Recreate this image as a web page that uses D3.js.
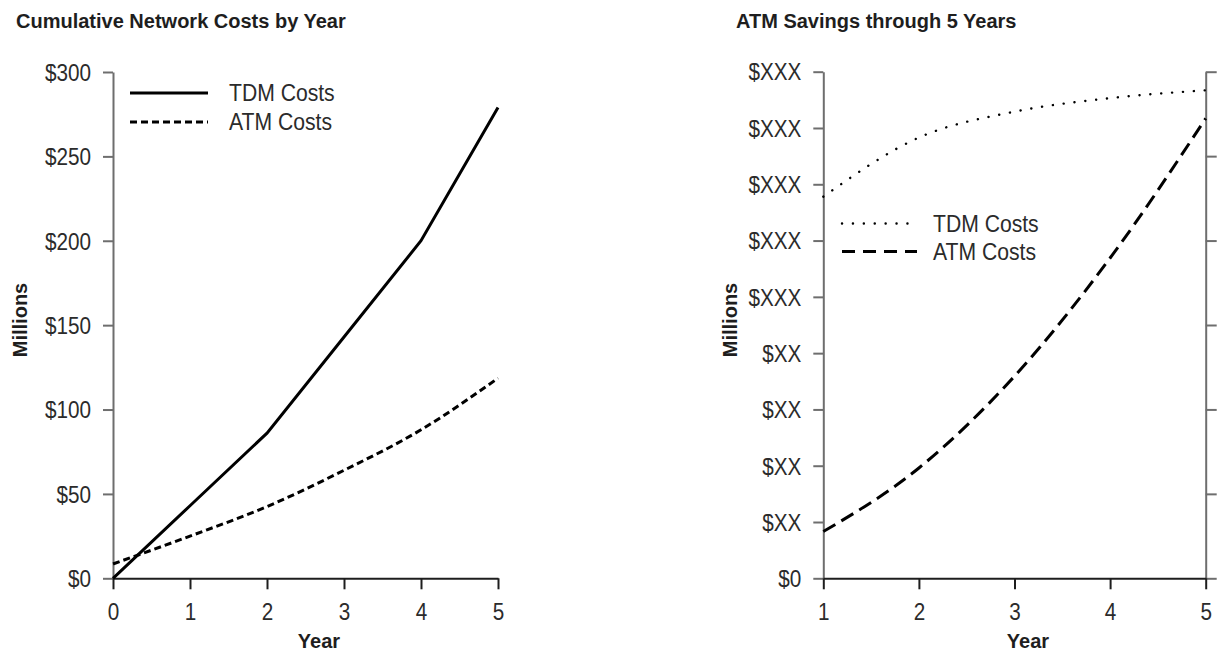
<!DOCTYPE html>
<html>
<head>
<meta charset="utf-8">
<script src="https://cdn.jsdelivr.net/npm/d3@7"></script>
<style>
  html, body { margin: 0; padding: 0; background: #fff; }
  svg { display: block; }
  .lbl { font-family: "Liberation Sans", Arial, Helvetica, sans-serif; fill: #2b2b2b; }
  .bold { font-weight: bold; fill: #1e1e1e; }
</style>
</head>
<body>
<svg id="chart" width="1225" height="654"></svg>
<script>
// ---- Cumulative network costs (left panel) ----
const costYears = [0, 1, 2, 3, 4, 5];
const tdmCosts = [0, 43, 86, 143, 200, 279];
const atmCosts = [8.5, 25, 42.5, 64, 88, 118.6];
const costTicks = [0, 50, 100, 150, 200, 250, 300];
const costTickLabels = ["$0", "$50", "$100", "$150", "$200", "$250", "$300"];

// ---- ATM savings through 5 years (right panel), values in label steps ----
const savingYears = [1, 2, 3, 4, 5];
const tdmSavings = [6.78, 7.83, 8.29, 8.53, 8.67];
const atmSavings = [0.83, 1.96, 3.59, 5.69, 8.17];
const savingTicks = [0, 1, 2, 3, 4, 5, 6, 7, 8, 9];
const savingTickLabels = ["$0", "$XX", "$XX", "$XX", "$XX", "$XXX", "$XXX", "$XXX", "$XXX", "$XXX"];
const savingRightTicks = [0, 1, 2, 3, 4, 5, 6];

const svg = d3.select("#chart");
const FONT = '"Liberation Sans", Arial, Helvetica, sans-serif';
const AXIS_GRAY = "#6e6e6e";
const AXIS_DARK = "#1e1e1e";
const NARROW = 0.9;   // horizontal squeeze for the light condensed labels

// squeeze text horizontally while keeping its anchor point in place
function condense(sel, k) {
  sel.each(function () {
    const t = d3.select(this);
    const x = +t.attr("x") || 0;
    t.attr("x", x / k).attr("transform", `scale(${k},1)`);
  });
}

function styleAxis(g, color, fontSize) {
  g.select(".domain").attr("stroke", color).attr("stroke-width", 2);
  g.selectAll(".tick line").attr("stroke", color).attr("stroke-width", 2);
  g.selectAll(".tick text")
    .attr("font-family", FONT)
    .attr("font-size", fontSize)
    .attr("fill", "#2b2b2b")
    .call(condense, NARROW);
}

function drawTexts(g, cfg) {
  g.append("text").attr("class", "lbl bold")
    .attr("x", cfg.titleX).attr("y", 28)
    .attr("font-size", 20)
    .text(cfg.title);
  g.append("text").attr("class", "lbl bold")
    .attr("transform", `translate(${cfg.millionsX},320) rotate(-90)`)
    .attr("text-anchor", "middle")
    .attr("font-size", 20)
    .text("Millions");
  g.append("text").attr("class", "lbl bold")
    .attr("x", cfg.yearX).attr("y", 648)
    .attr("text-anchor", "middle")
    .attr("font-size", 20)
    .text("Year");
}

function drawLegend(g, items) {
  items.forEach(it => {
    g.append("line")
      .attr("x1", it.x1).attr("x2", it.x2)
      .attr("y1", it.y).attr("y2", it.y)
      .attr("stroke", "#000")
      .attr("stroke-width", it.width)
      .attr("stroke-dasharray", it.dash)
      .attr("stroke-linecap", it.cap || "butt");
    g.append("text").attr("class", "lbl")
      .attr("x", it.tx).attr("y", it.y + 8.5)
      .attr("font-size", 23.5)
      .text(it.label)
      .call(condense, NARROW);
  });
}

// ================= Left panel =================
{
  const g = svg.append("g");
  const x = d3.scaleLinear().domain([0, 5]).range([113, 498]);
  const y = d3.scaleLinear().domain([0, 300]).range([578.3, 72]);

  const yAxis = g.append("g").attr("transform", `translate(${x(0)},0)`)
    .call(d3.axisLeft(y).tickValues(costTicks)
      .tickFormat((d, i) => costTickLabels[i])
      .tickSize(10).tickSizeOuter(0).tickPadding(12));
  styleAxis(yAxis, AXIS_GRAY, 23);
  yAxis.selectAll(".tick text").attr("dy", "0.36em");

  const xAxis = g.append("g").attr("transform", `translate(0,${y(0)})`)
    .call(d3.axisBottom(x).tickValues(costYears)
      .tickFormat(d3.format("d"))
      .tickSize(11).tickSizeOuter(0).tickPadding(14));
  styleAxis(xAxis, AXIS_DARK, 23);

  g.append("path").datum(tdmCosts)
    .attr("d", d3.line().x((d, i) => x(costYears[i])).y(d => y(d)))
    .attr("fill", "none").attr("stroke", "#000").attr("stroke-width", 3);
  g.append("path").datum(atmCosts)
    .attr("d", d3.line().x((d, i) => x(costYears[i])).y(d => y(d)).curve(d3.curveMonotoneX))
    .attr("fill", "none").attr("stroke", "#000").attr("stroke-width", 3)
    .attr("stroke-dasharray", "7,4");

  drawLegend(g, [
    { x1: 130, x2: 208, y: 93, width: 3, dash: null, tx: 229, label: "TDM Costs" },
    { x1: 130, x2: 208, y: 122, width: 3, dash: "7,4", tx: 229, label: "ATM Costs" }
  ]);

  drawTexts(g, { title: "Cumulative Network Costs by Year", titleX: 16, millionsX: 27, yearX: 319 });
}

// ================= Right panel =================
{
  const g = svg.append("g");
  const x = d3.scaleLinear().domain([1, 5]).range([823.3, 1205.7]);
  const y = d3.scaleLinear().domain([0, 9]).range([578.3, 71.7]);
  const yRight = d3.scaleLinear().domain([0, 6]).range([578.3, 71.7]);

  const yAxis = g.append("g").attr("transform", `translate(${x(1)},0)`)
    .call(d3.axisLeft(y).tickValues(savingTicks)
      .tickFormat((d, i) => savingTickLabels[i])
      .tickSize(10).tickSizeOuter(0).tickPadding(12));
  styleAxis(yAxis, AXIS_GRAY, 23);
  yAxis.selectAll(".tick text").attr("dy", "0.36em");

  const yAxisR = g.append("g").attr("transform", `translate(${x(5)},0)`)
    .call(d3.axisRight(yRight).tickValues(savingRightTicks)
      .tickFormat("").tickSize(11).tickSizeOuter(0));
  styleAxis(yAxisR, AXIS_GRAY, 23);

  const xAxis = g.append("g").attr("transform", `translate(0,${y(0)})`)
    .call(d3.axisBottom(x).tickValues(savingYears)
      .tickFormat(d3.format("d"))
      .tickSize(11).tickSizeOuter(0).tickPadding(14));
  styleAxis(xAxis, AXIS_DARK, 23);

  const curve = d3.line().x((d, i) => x(savingYears[i])).y(d => y(d)).curve(d3.curveMonotoneX);
  g.append("path").datum(tdmSavings)
    .attr("d", curve)
    .attr("fill", "none").attr("stroke", "#000").attr("stroke-width", 2.4)
    .attr("stroke-linecap", "round")
    .attr("stroke-dasharray", "0.1,10.8");
  g.append("path").datum(atmSavings)
    .attr("d", curve)
    .attr("fill", "none").attr("stroke", "#000").attr("stroke-width", 3)
    .attr("stroke-dasharray", "14,7");

  drawLegend(g, [
    { x1: 842, x2: 908, y: 223.5, width: 2.4, dash: "0.1,10.8", cap: "round", tx: 933, label: "TDM Costs" },
    { x1: 842, x2: 917, y: 251.5, width: 3, dash: "13,8", tx: 933, label: "ATM Costs" }
  ]);

  drawTexts(g, { title: "ATM Savings through 5 Years", titleX: 736, millionsX: 737, yearX: 1028 });
}
</script>
</body>
</html>
